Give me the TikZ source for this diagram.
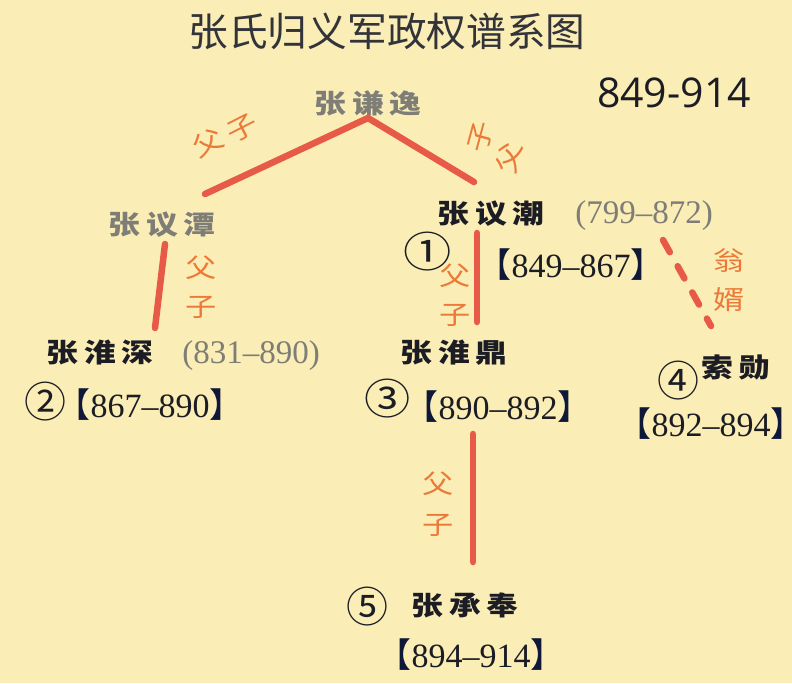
\documentclass[tikz,border=0pt]{standalone}
\usepackage{graphicx}
\usepackage{fontspec}
\setmainfont{Liberation Serif}
\newfontfamily\cjk{Noto Sans CJK SC}
\newfontfamily\numfont{Open Sans}
\usetikzlibrary{calc}
\definecolor{paper}{HTML}{FAEDB6}
\definecolor{ink}{HTML}{1C1C24}
\definecolor{muted}{HTML}{7E7D76}
\definecolor{navy}{HTML}{0F1838}
\definecolor{redline}{HTML}{E85A48}
\definecolor{rel}{HTML}{EB7A38}
\newcommand\wide[1]{\scalebox{1.2}[1]{#1}}
\newcommand\nsep{\hspace{5pt}}
\newcommand\circnum[1]{\makebox[28pt]{#1}}
\newcommand\reign[2]{{\cjk\color{navy}\hspace{-12pt}【}#1–#2{\cjk\color{navy}】\hspace{-12pt}}}
\tikzset{
  link/.style={draw=redline, line width=6.5pt, line cap=round},
  dlink/.style={link, dash pattern=on 14pt off 16pt},
  relc/.style={text=rel, inner sep=0pt, font=\cjk\fontsize{26}{26}\selectfont},
  person/.style={text=ink, inner sep=0pt, font=\cjk\bfseries\fontsize{26.5}{27}\selectfont},
  personm/.style={person, text=muted},
  yrs/.style={text=muted, inner sep=0pt, font=\fontsize{33}{33}\selectfont},
  reignc/.style={text=ink, inner sep=0pt, font=\fontsize{34}{34}\selectfont},
  num/.style={text=ink, inner sep=0pt, text height=29pt, text depth=1pt, font=\cjk\fontsize{42}{42}\selectfont},
}
\begin{document}
\begin{tikzpicture}[x=1pt,y=-1pt]
  \fill[paper] (0,0) rectangle (792,683);
  \useasboundingbox (0,0) rectangle (792,683);
  % heading
  \node[text=ink!90, inner sep=0pt, font=\cjk\fontsize{39.7}{40}\selectfont] (title) at (387,31) {张氏归义军政权谱系图};
  \node[text=ink, inner sep=0pt, font=\numfont\fontsize{41}{41}\selectfont] (span) at (674,93) {849-914};
  % people
  \node[personm] (qy) at (368,103) {\wide{张\nsep 谦\nsep 逸}};
  \node[personm] (yt) at (162,225) {\wide{张\nsep 议\nsep 潭}};
  \node[person] (yc) at (491,214) {\wide{张\nsep 议\nsep 潮}};
  \node[yrs] (ycy) at (644,216) {(799–872)};
  \node[num] (n1) at (428,253) {\circnum{\scalebox{1.15}[1]{①}}};
  \node[reignc] (r1) at (571,265) {\reign{849}{867}};
  \node[person] (hs) at (100,353) {\wide{张\nsep 淮\nsep 深}};
  \node[yrs] (hsy) at (251,356) {(831–890)};
  \node[num] (n2) at (45,403) {\circnum{②}};
  \node[reignc] (r2) at (150,405) {\reign{867}{890}};
  \node[person] (hd) at (454,353) {\wide{张\nsep 淮\nsep 鼎}};
  \node[num] (n3) at (388,400) {\circnum{\scalebox{1.1}[1]{③}}};
  \node[reignc] (r3) at (498,407) {\reign{890}{892}};
  \node[person] (sx) at (736,367) {\wide{索\nsep 勋}};
  \node[num] (n4) at (678,382) {\circnum{④}};
  \node[reignc] (r4) at (711,424) {\reign{892}{894}};
  \node[person] (cf) at (465,605) {\wide{张\nsep 承\nsep 奉}};
  \node[num] (n5) at (367,608) {\circnum{⑤}};
  \node[reignc] (r5) at (471,655) {\reign{894}{914}};
  % line ends
  \coordinate (top) at (368,118);
  \coordinate (ytn) at (205,194);
  \coordinate (ycn) at (474,182);
  \coordinate (yts) at (165,244);
  \coordinate (hsn) at (155,328);
  \coordinate (ycs) at (477,233);
  \coordinate (hdn) at (477,322);
  \coordinate (ycyb) at (663,240);
  \coordinate (sxn) at (711,326);
  \coordinate (hds) at (473,434);
  \coordinate (cfn) at (473,562);
  \draw[link] (ytn) -- (top) -- (ycn);
  \draw[link] (yts) -- (hsn);
  \draw[link] (ycs) -- (hdn);
  \draw[dlink] (ycyb) -- (sxn);
  \draw[link] (hds) -- (cfn);
  % relations
  \node[relc, rotate=27] (fa1) at (208,143) {\wide{父}};
  \node[relc, rotate=27] (zi1) at (242,128) {\wide{子}};
  \node[relc, rotate=75] (zi2) at (481,137) {\wide{子}};
  \node[relc, rotate=75] (fa2) at (509,158) {\wide{父}};
  \node[relc] (fa3) at (201,268) {\wide{父}};
  \node[relc] (zi3) at (201,307) {\wide{子}};
  \node[relc] (fa4) at (455,276) {\wide{父}};
  \node[relc] (zi4) at (455,315) {\wide{子}};
  \node[relc] (weng) at (729,261) {\wide{翁}};
  \node[relc] (xu) at (729,300) {\wide{婿}};
  \node[relc] (fa5) at (438,484) {\wide{父}};
  \node[relc] (zi5) at (438,525) {\wide{子}};
\end{tikzpicture}
\end{document}
